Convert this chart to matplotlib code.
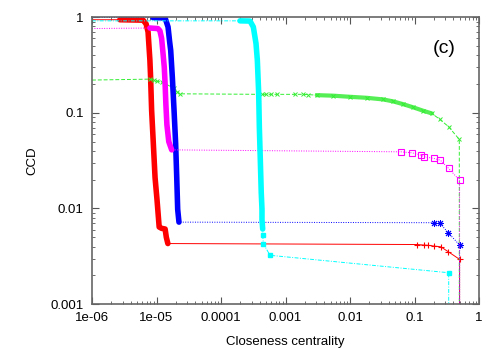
import numpy as np
import matplotlib.pyplot as plt
from matplotlib.ticker import LogLocator, NullFormatter

plt.rcParams['font.family'] = ['Liberation Sans', 'DejaVu Sans']

# red series (+, solid)
red_band_x = [2.7e-6, 6.2e-6, 6.9e-6, 7.4e-6, 7.6e-6, 7.9e-6, 8.1e-6, 8.4e-6, 8.8e-6,
              9.5e-6, 1.02e-5, 1.1e-5, 1.2e-5, 1.36e-5, 1.42e-5, 1.5e-5]
red_band_y = [0.94, 0.93, 0.85, 0.70, 0.53, 0.355, 0.236, 0.107, 0.058,
              0.021, 0.0122, 0.0064, 0.0062, 0.0061, 0.005, 0.0043]
red_tail_x = [0.11, 0.141, 0.164, 0.2, 0.255, 0.334, 0.5]
red_tail_y = [0.0042, 0.00415, 0.00412, 0.00405, 0.00398, 0.00353, 0.00294]

# green series (x, dashed)
green_head_x = [7.9e-6, 9e-6, 1.0e-5, 1.2e-5, 1.9e-5, 2.1e-5, 2.3e-5]
green_head_y = [0.225, 0.22, 0.215, 0.21, 0.18, 0.165, 0.158]
green_tail_x = [4.28e-4, 5e-4, 6e-4, 7.31e-4, 1.40e-3, 1.87e-3, 2.23e-3, 3.05e-3, 5.51e-3,
                0.01, 0.0182, 0.0328, 0.0469, 0.067, 0.0958, 0.137, 0.185, 0.248, 0.339, 0.495]
green_tail_y = [0.156, 0.156, 0.156, 0.156, 0.156, 0.156, 0.155, 0.153, 0.151,
                0.147, 0.1435, 0.138, 0.1315, 0.123, 0.114, 0.105, 0.0986, 0.0853, 0.0714, 0.0527]

# blue series (*, dotted)
blue_band_x = [8.8e-6, 1.36e-5, 1.51e-5, 1.6e-5, 1.66e-5, 1.76e-5, 1.87e-5, 1.98e-5,
               2.06e-5, 2.13e-5, 2.23e-5]
blue_band_y = [0.99, 0.98, 0.79, 0.55, 0.45, 0.236, 0.107, 0.048, 0.021, 0.0098, 0.0072]
blue_tail_x = [0.2, 0.248, 0.334, 0.5]
blue_tail_y = [0.0071, 0.0070, 0.00557, 0.00415]

# magenta series (open squares, dotted)
mag_band_x = [7.9e-6, 1.05e-5, 1.13e-5, 1.2e-5, 1.25e-5, 1.32e-5, 1.36e-5, 1.40e-5,
              1.45e-5, 1.55e-5, 1.72e-5]
mag_band_y = [0.77, 0.76, 0.72, 0.6, 0.45, 0.3, 0.2, 0.12, 0.075, 0.05, 0.041]
mag_tail_x = [0.0618, 0.0915, 0.126, 0.142, 0.199, 0.251, 0.339, 0.5]
mag_tail_y = [0.0391, 0.0382, 0.0361, 0.0347, 0.0334, 0.0320, 0.0262, 0.0197]

# cyan series (filled squares, dash-dot)
cyan_band_x = [1.97e-4, 2.82e-4, 3.17e-4, 3.49e-4, 3.66e-4, 3.84e-4, 3.93e-4, 4.07e-4,
               4.21e-4, 4.32e-4, 4.32e-4, 4.43e-4]
cyan_band_y = [0.915, 0.91, 0.79, 0.53, 0.355, 0.16, 0.071, 0.032, 0.0145, 0.0098, 0.0076, 0.0061]
cyan_tail_x = [4.43e-4, 4.53e-4, 5.75e-4, 0.339]
cyan_tail_y = [0.0053, 0.0043, 0.00324, 0.00213]

# first and last points of each curve
start_x = 1e-6
red_start, green_start, blue_start, mag_start, cyan_start = 0.94, 0.22, 0.993, 0.76, 0.915
end_y = 5e-4

xticks = [1e-6, 1e-5, 1e-4, 1e-3, 1e-2, 0.1, 1]
xlabels = ['1e-06', '1e-05', '0.0001', '0.001', '0.01', '0.1', '1']
yticks = [0.001, 0.01, 0.1, 1]
ylabels = ['0.001', '0.01', '0.1', '1']

fig = plt.figure(figsize=(5, 3.5), dpi=100)
ax = fig.add_axes([0.184, 0.131, 0.774, 0.820])

thin = 0.7
band = 4.0

# red
ax.plot([start_x] + red_band_x + red_tail_x + [0.5], [red_start] + red_band_y + red_tail_y + [end_y],
        color='red', lw=thin, ls='-')
ax.plot(red_band_x, red_band_y, color='red', lw=band, solid_capstyle='round')
ax.plot(red_tail_x, red_tail_y, ls='none', marker='+', ms=5, mew=0.8, color='red')

# green
ax.plot([start_x] + green_head_x + green_tail_x + [0.495], [green_start] + green_head_y + green_tail_y + [end_y],
        color='#33ee33', lw=thin, ls=(0, (4, 2)))
ax.plot(green_tail_x[7:17], green_tail_y[7:17], color='#55ee55', lw=3.0, solid_capstyle='round')
ax.plot(green_head_x + green_tail_x, green_head_y + green_tail_y, ls='none', marker='x', ms=3.5,
        mew=0.7, color='#33ee33')

# blue
ax.plot([start_x] + blue_band_x + blue_tail_x + [0.5], [blue_start] + blue_band_y + blue_tail_y + [end_y],
        color='blue', lw=thin, ls=(0, (1, 1.5)))
ax.plot(blue_band_x, blue_band_y, color='blue', lw=band, solid_capstyle='round')
ax.plot(blue_tail_x, blue_tail_y, ls='none', marker=(8, 2, 0), ms=5, mew=0.7, color='blue')

# magenta
ax.plot([start_x] + mag_band_x + mag_tail_x + [0.5], [mag_start] + mag_band_y + mag_tail_y + [end_y],
        color='magenta', lw=thin, ls=(0, (1, 1.5)))
ax.plot(mag_band_x, mag_band_y, color='magenta', lw=band, solid_capstyle='round')
ax.plot(mag_tail_x, mag_tail_y, ls='none', marker='s', ms=4.5, mew=0.8, mfc='none', color='magenta')

# cyan
ax.plot([start_x] + cyan_band_x + cyan_tail_x + [0.339], [cyan_start] + cyan_band_y + cyan_tail_y + [end_y],
        color='cyan', lw=thin, ls=(0, (4, 1.5, 1, 1.5)))
ax.plot(cyan_band_x, cyan_band_y, color='cyan', lw=band, solid_capstyle='round')
ax.plot(cyan_tail_x, cyan_tail_y, ls='none', marker='s', ms=3.5, color='cyan')

ax.set_xscale('log')
ax.set_yscale('log')
ax.set_xlim(1e-6, 1)
ax.set_ylim(0.001, 1)
ax.set_xticks(xticks, xlabels)
ax.set_yticks(yticks, ylabels)
ax.xaxis.set_minor_locator(LogLocator(base=10, subs=np.arange(2, 10), numticks=20))
ax.yaxis.set_minor_locator(LogLocator(base=10, subs=np.arange(2, 10), numticks=20))
ax.xaxis.set_minor_formatter(NullFormatter())
ax.yaxis.set_minor_formatter(NullFormatter())
ax.tick_params(which='both', direction='in', top=True, right=True, labelsize=9.5, colors='#555555',
               labelcolor='black')
ax.tick_params(which='major', length=5, width=0.8, pad=6)
ax.tick_params(which='minor', length=2.5, width=0.6)
for s in ax.spines.values():
    s.set_color('#666666')
    s.set_linewidth(1.2)

ax.set_xlabel('Closeness centrality', fontsize=9.5, labelpad=8)
ax.set_ylabel('CCD', fontsize=9.5, labelpad=9)
ax.text(0.91, 0.89, '(c)', transform=ax.transAxes, fontsize=14, ha='center', va='center')

plt.savefig('out.png', dpi=100)
